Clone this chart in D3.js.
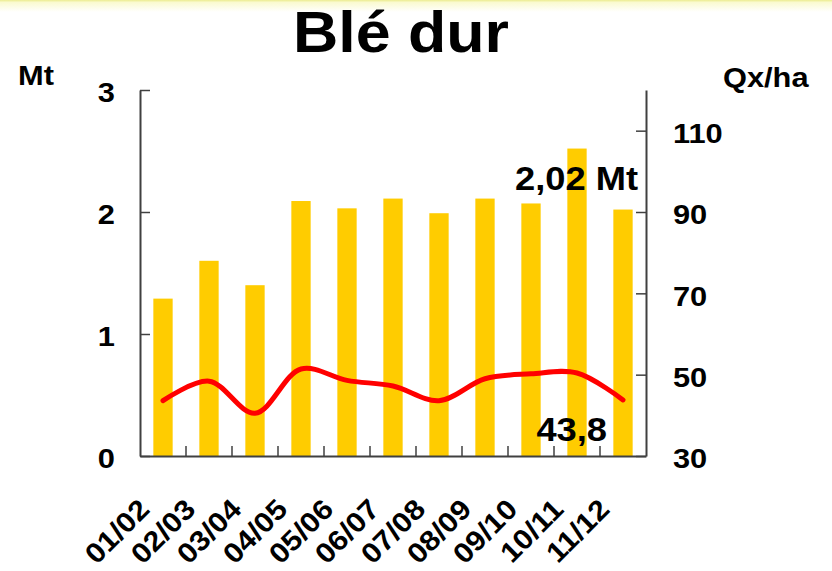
<!DOCTYPE html>
<html>
<head>
<meta charset="utf-8">
<script src="https://cdn.jsdelivr.net/npm/d3@7"></script>
<style>
  html, body { margin: 0; padding: 0; background: #fff; }
  svg { display: block; font-family: "Liberation Sans", Arial, sans-serif; font-weight: bold; }
</style>
</head>
<body>
<div id="chart"></div>
<script>
// Durum wheat: production (Mt, bars) and yield (quintals per hectare, line)
const campaigns = ["01/02", "02/03", "03/04", "04/05", "05/06", "06/07", "07/08", "08/09", "09/10", "10/11", "11/12"];
const productionMt = [1.29, 1.60, 1.40, 2.09, 2.03, 2.11, 1.99, 2.11, 2.07, 2.52, 2.02];
const yieldQxHa = [43.6, 48.4, 40.5, 51.4, 48.6, 47.2, 43.6, 49.0, 50.2, 50.4, 43.8];
const leftTicks = [0, 1, 2, 3];
const rightTicks = [30, 50, 70, 90, 110];

const W = 832, H = 571;
const plot = { left: 140, right: 646, top: 90, bottom: 456 };
const SX = 1.1; // horizontal stretch applied to all lettering

const svg = d3.select("#chart").append("svg")
  .attr("width", W).attr("height", H);

// pale band along the top edge
const defs = svg.append("defs");
const grad = defs.append("linearGradient").attr("id", "topband")
  .attr("x1", 0).attr("y1", 0).attr("x2", 0).attr("y2", 1);
grad.append("stop").attr("offset", "0").attr("stop-color", "#ecec90");
grad.append("stop").attr("offset", "0.2").attr("stop-color", "#fafad0");
grad.append("stop").attr("offset", "1").attr("stop-color", "#ffffff");
svg.append("rect").attr("x", 0).attr("y", 0).attr("width", W).attr("height", 12)
  .attr("fill", "url(#topband)");

const x = d3.scaleBand().domain(campaigns)
  .range([plot.left, plot.right]).paddingInner(0.58).paddingOuter(0.29);
const yLeft = d3.scaleLinear().domain([0, 3]).range([plot.bottom, plot.top]);
const yRight = d3.scaleLinear().domain([30, 120]).range([plot.bottom, plot.top]);

// title and axis units
svg.append("text").attr("transform", `translate(401,52) scale(${SX},1)`)
  .attr("text-anchor", "middle").attr("font-size", 57).text("Blé dur");
svg.append("text").attr("transform", `translate(18,85) scale(${SX},1)`)
  .attr("font-size", 28).text("Mt");
svg.append("text").attr("transform", `translate(723,87) scale(${SX},1)`)
  .attr("font-size", 28).text("Qx/ha");

// bars
svg.append("g").selectAll("rect").data(campaigns).join("rect")
  .attr("x", d => x(d))
  .attr("width", x.bandwidth())
  .attr("y", (d, i) => yLeft(productionMt[i]))
  .attr("height", (d, i) => yLeft(0) - yLeft(productionMt[i]))
  .attr("fill", "#ffcc00");

// yield line
const line = d3.line()
  .x((d, i) => x(campaigns[i]) + x.bandwidth() / 2)
  .y(d => yRight(d))
  .curve(d3.curveCatmullRom.alpha(0.5));
svg.append("path").datum(yieldQxHa)
  .attr("d", line)
  .attr("fill", "none").attr("stroke", "#ff0000")
  .attr("stroke-width", 5).attr("stroke-linecap", "round").attr("stroke-linejoin", "round");

function styleAxis(g) {
  g.select(".domain").attr("stroke", "#404040").attr("stroke-width", 2);
  g.selectAll(".tick line").attr("stroke", "#404040").attr("stroke-width", 1.5);
  g.selectAll(".tick text").attr("fill", "#000").attr("font-size", 28)
    .attr("font-family", "\"Liberation Sans\", Arial, sans-serif").attr("font-weight", "bold");
}

// left axis (Mt)
const gL = svg.append("g").attr("transform", `translate(${plot.left},0)`)
  .call(d3.axisLeft(yLeft).tickValues(leftTicks).tickSizeInner(-10).tickSizeOuter(0)
    .tickFormat(d3.format("d")));
styleAxis(gL);
gL.selectAll(".tick text").attr("x", -25 / SX).attr("dy", "0.42em")
  .attr("transform", `scale(${SX},1)`);

// right axis (Qx/ha)
const gR = svg.append("g").attr("transform", `translate(${plot.right},0)`)
  .call(d3.axisRight(yRight).tickValues(rightTicks).tickSizeInner(-10).tickSizeOuter(0)
    .tickFormat(d3.format("d")));
styleAxis(gR);
gR.selectAll(".tick text").attr("x", 27 / SX).attr("dy", "0.42em")
  .attr("transform", `scale(${SX},1)`);

// bottom axis: ticks between campaigns, labels slanted
const gB = svg.append("g").attr("transform", `translate(0,${plot.bottom})`)
  .call(d3.axisBottom(x).tickSize(0).tickSizeOuter(0));
styleAxis(gB);
gB.selectAll(".tick text")
  .attr("x", null).attr("y", null).attr("dy", null)
  .attr("text-anchor", "end")
  .attr("transform", `translate(-12,55) rotate(-45) scale(${SX},1)`);
gB.append("g").selectAll("line").data(campaigns.slice(1)).join("line")
  .attr("x1", d => x(d) - x.step() * x.paddingInner() / 2)
  .attr("x2", d => x(d) - x.step() * x.paddingInner() / 2)
  .attr("y1", 0).attr("y2", -10)
  .attr("stroke", "#404040").attr("stroke-width", 1.5);

// value call-outs for the latest campaign
const last = campaigns.length - 1;
const cxLast = x(campaigns[last]) + x.bandwidth() / 2;
svg.append("text")
  .attr("transform", `translate(${cxLast + 15},${yLeft(productionMt[last]) - 20}) scale(${SX},1)`)
  .attr("text-anchor", "end").attr("font-size", 33)
  .text(d3.format(".2f")(productionMt[last]).replace(".", ",") + " Mt");
svg.append("text")
  .attr("transform", `translate(${cxLast - 16},${yRight(yieldQxHa[last]) + 41}) scale(${SX},1)`)
  .attr("text-anchor", "end").attr("font-size", 33)
  .text(d3.format(".1f")(yieldQxHa[last]).replace(".", ","));
</script>
</body>
</html>
